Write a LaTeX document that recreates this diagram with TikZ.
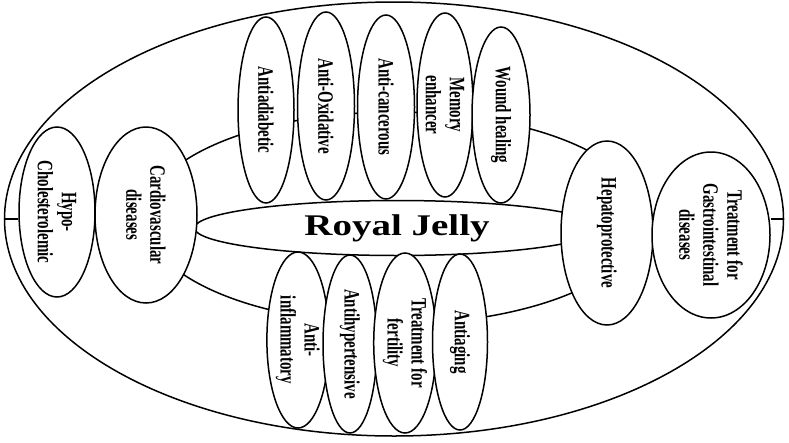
\documentclass[tikz,border=0pt]{standalone}
\usepackage{fontspec}
\setmainfont{Liberation Serif}
\newfontfamily\lblfont[FakeStretch=0.68]{Liberation Serif}
\newfontfamily\corefont[FakeStretch=1.3]{Liberation Serif}
\usepackage{tikz}
\usetikzlibrary{shapes.geometric}

\begin{document}
\begin{tikzpicture}[
    x=1pt, y=-1pt,
    ring/.style={draw, ellipse, line width=1.5pt, inner sep=0pt},
    item/.style={draw, ellipse, line width=1.5pt, fill=white, inner sep=0pt, rotate=-90,
        align=center, font=\lblfont\bfseries\fontsize{22}{24}\selectfont},
    core/.style={draw, ellipse, line width=1.5pt, fill=white, inner sep=0pt,
        font=\corefont\bfseries\fontsize{30}{32}\selectfont}
]
\useasboundingbox (0,0) rectangle (789,442);

% Rings
\node (outer) at (394,219) [ring, minimum width=779pt, minimum height=434pt] {};
\node (inner) at (395,218) [ring, minimum width=500pt, minimum height=212pt] {};

% Centre
\node (royal) at (397,228) [core, minimum width=405pt, minimum height=55pt] {Royal Jelly};

% Left side
\node (hypo) at (57,212) [item, minimum width=170pt, minimum height=76pt] {Hypo-\\Cholesterolemic};
\node (cardio) at (146,215) [item, minimum width=176pt, minimum height=102pt] {Cardiovascular\\diseases};

% Top row
\node (antidiab) at (266,110) [item, minimum width=186pt, minimum height=56pt] {Antiadiabetic};
\node (antiox) at (326,106) [item, minimum width=188pt, minimum height=57pt] {Anti-Oxidative};
\node (anticanc) at (386,107) [item, minimum width=184pt, minimum height=57pt] {Anti-cancerous};
\node (memory) at (445,105) [item, minimum width=184pt, minimum height=56pt] {Memory\\enhancer};
\node (wound) at (501,115) [item, minimum width=176pt, minimum height=58pt] {Wound healing};

% Right side
\node (hepato) at (607,233) [item, minimum width=184pt, minimum height=92pt] {Hepatoprotective};
\node (gastro) at (711,235) [item, minimum width=166pt, minimum height=118pt] {Treatment for\\Gastrointestinal\\diseases};

% Bottom row
\node (antiinfl) at (298,340) [item, minimum width=176pt, minimum height=57pt] {Anti-\\inflammatory};
\node (antihyp) at (350,344) [item, minimum width=178pt, minimum height=54pt] {Antihypertensive};
\node (fertil) at (405,343) [item, minimum width=180pt, minimum height=55pt] {Treatment for\\fertility};
\node (antiaging) at (460,342) [item, minimum width=176pt, minimum height=55pt] {Antiaging};

% Ticks to the outer ring
\draw [line width=1.5pt] (outer.west) -- (outer.west -| hypo.south);
\draw [line width=1.5pt] (outer.east) -- (outer.east -| gastro.north);

\end{tikzpicture}
\end{document}
